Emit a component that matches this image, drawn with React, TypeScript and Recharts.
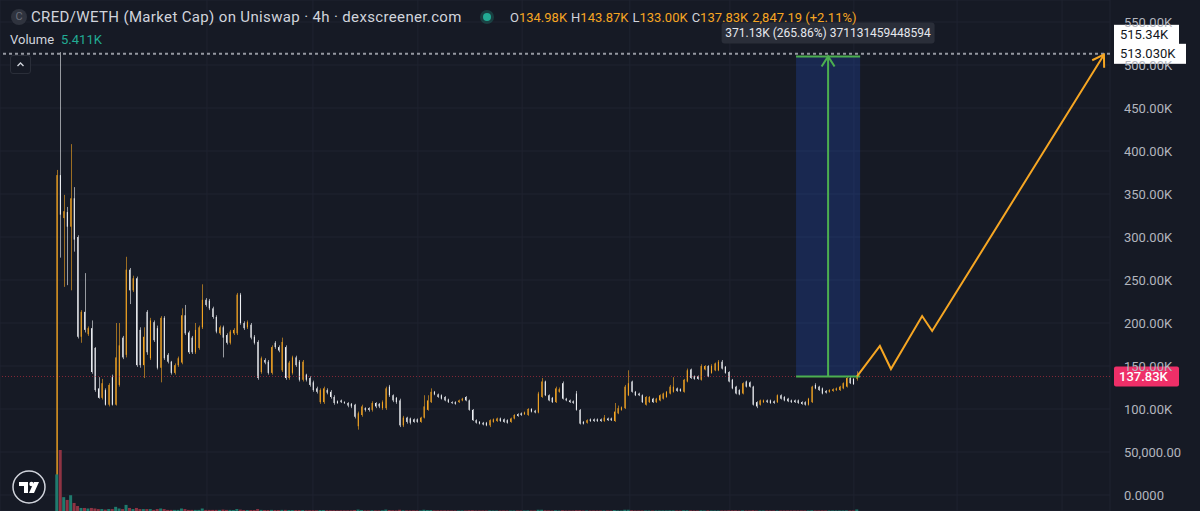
import React from 'react';
import {
  ComposedChart,
  Bar,
  Line,
  XAxis,
  YAxis,
  CartesianGrid,
  ReferenceLine,
  ReferenceArea,
  Cell,
} from 'recharts';

const W = 1200;
const H = 511;
const BG = '#161a25';
const UP = '#f6a623';
const DOWN = '#eef0f4';
const VOL_UP = '#1f7a6d';
const VOL_DOWN = '#8f3343';
const GREEN = '#4caf50';
const AXIS_TEXT = '#b2b5be';
const FONT = 'Roboto, "Noto Sans", sans-serif';

// [open, high, low, close, volume] — values in K
const candles: [number, number, number, number, number][] = [
  [2, 378, 1, 372, 132], [372, 515, 276, 326, 220], [322, 349, 242, 330, 50], [329, 335, 244, 312, 40],
  [312, 408, 238, 345, 57], [345, 358, 283, 297, 29], [300, 302, 182, 184, 18], [184, 215, 177, 213, 11],
  [213, 258, 189, 192, 11], [187, 196, 185, 194, 9], [194, 203, 141, 143, 11], [171, 172, 120, 122, 9],
  [124, 137, 112, 113, 7], [113, 135, 111, 130, 7], [122, 124, 104, 105, 5], [105, 130, 103, 128, 7],
  [137, 140, 104, 105, 7], [105, 200, 104, 160, 15], [128, 200, 126, 174, 9], [183, 185, 158, 160, 7],
  [163, 277, 160, 262, 22], [262, 264, 222, 238, 11], [238, 255, 236, 252, 7], [252, 254, 149, 151, 11],
  [192, 195, 148, 151, 7], [151, 195, 136, 184, 7], [213, 215, 163, 166, 7], [159, 206, 157, 203, 7],
  [201, 203, 178, 180, 4], [194, 197, 146, 148, 7], [148, 208, 131, 206, 9], [206, 208, 157, 159, 7],
  [163, 165, 153, 155, 4], [155, 156, 140, 142, 4], [142, 153, 140, 151, 4], [151, 161, 149, 159, 4],
  [154, 217, 152, 209, 9], [209, 221, 186, 188, 7], [189, 191, 164, 166, 4], [183, 185, 164, 166, 4],
  [166, 200, 164, 192, 4], [171, 197, 169, 195, 4], [195, 245, 193, 227, 9], [227, 229, 219, 221, 4],
  [226, 228, 215, 217, 4], [217, 219, 205, 207, 4], [207, 209, 188, 190, 4], [188, 197, 186, 195, 4],
  [195, 197, 160, 183, 5], [186, 188, 175, 177, 4], [177, 192, 175, 190, 4], [188, 194, 186, 192, 3.5],
  [188, 235, 186, 233, 7], [233, 235, 198, 200, 5], [200, 202, 192, 194, 3.5], [195, 203, 193, 201, 3.5],
  [198, 200, 181, 183, 3.5], [184, 186, 175, 177, 3.5], [178, 180, 134, 136, 7], [143, 161, 141, 159, 4],
  [157, 159, 152, 154, 3.5], [155, 157, 140, 142, 3.5], [142, 174, 140, 172, 4], [177, 179, 170, 172, 3.5],
  [172, 174, 166, 168, 3.5], [145, 183, 143, 178, 4], [172, 174, 134, 136, 4], [136, 156, 134, 154, 3.5],
  [142, 162, 140, 160, 3.5], [160, 162, 149, 151, 3.5], [155, 157, 132, 134, 3.5], [134, 157, 132, 155, 3.5],
  [140, 141, 132, 134, 2.6], [136, 138, 126, 128, 2.6], [131, 133, 120, 122, 2.6], [124, 126, 118, 120, 2.6],
  [108, 124, 106, 122, 3.5], [108, 126, 106, 124, 3.5], [122, 124, 117, 119, 2.6], [120, 122, 112, 114, 2.6],
  [114, 116, 105, 107, 2.6], [109, 110, 106, 107, 2.2], [110, 111, 107, 108, 2.2], [108, 109, 106, 107, 2.2],
  [107, 108, 102, 104, 2.2], [106, 107, 101, 103, 2.2], [105, 106, 89, 91, 3.5], [80, 97, 76, 95, 5],
  [93, 105, 91, 103, 3.5], [101, 102, 97, 99, 2.2], [101, 102, 97, 99, 2.2], [99, 109, 97, 107, 2.6],
  [107, 108, 101, 103, 2.2], [106, 107, 101, 103, 2.2], [101, 110, 99, 108, 2.6], [101, 126, 99, 124, 5],
  [126, 128, 114, 116, 3.5], [116, 117, 108, 110, 2.6], [113, 114, 106, 108, 2.2], [110, 112, 79, 81, 4.4],
  [81, 92, 79, 90, 2.6], [90, 91, 83, 85, 2.2], [89, 90, 82, 84, 2.2], [88, 89, 84, 85, 2.2],
  [88, 89, 84, 85, 2.2], [85, 91, 84, 90, 2.2], [90, 116, 89, 103, 4.4], [99, 116, 98, 110, 3.5],
  [108, 124, 107, 120, 3.5], [120, 121, 116, 117, 2.2], [117, 118, 113, 114, 2.2], [116, 117, 111, 112, 2.2],
  [114, 115, 109, 110, 2.2], [111, 112, 107, 108, 2.2], [108, 109, 106, 107, 1.8], [108, 109, 105, 106, 1.8],
  [108, 111, 107, 110, 1.8], [110, 113, 109, 112, 1.8], [114, 115, 109, 110, 1.8], [110, 111, 98, 99, 2.6],
  [99, 100, 86, 87, 2.6], [87, 88, 83, 84, 1.8], [85, 86, 82, 83, 1.8], [84, 85, 81, 82, 1.8],
  [84, 85, 80, 81, 1.8], [81, 88, 79, 87, 2.2], [85, 89, 84, 88, 1.8], [86, 90, 85, 89, 1.8],
  [89, 90, 85, 86, 1.8], [88, 89, 84, 85, 1.8], [87, 88, 83, 84, 1.8], [85, 90, 84, 89, 1.8],
  [89, 94, 88, 93, 1.8], [94, 95, 91, 92, 1.8], [95, 96, 92, 93, 1.8], [94, 97, 93, 96, 1.8],
  [93, 101, 92, 100, 2.2], [100, 101, 96, 97, 1.8], [98, 99, 95, 96, 1.8], [96, 120, 95, 118, 4.4],
  [114, 136, 113, 132, 4.4], [132, 133, 115, 116, 2.6], [116, 117, 109, 110, 2.2], [113, 114, 107, 108, 1.8],
  [108, 126, 107, 124, 2.6], [120, 125, 119, 123, 1.8], [130, 132, 111, 112, 2.6], [112, 113, 109, 110, 1.8],
  [110, 111, 107, 108, 1.8], [109, 110, 106, 107, 1.8], [118, 121, 98, 99, 2.6], [99, 100, 82, 83, 2.6],
  [85, 86, 82, 83, 1.8], [84, 88, 83, 87, 1.8], [88, 89, 85, 86, 1.8], [88, 89, 85, 86, 1.8],
  [88, 89, 85, 86, 1.8], [88, 89, 85, 86, 1.8], [86, 93, 85, 90, 1.8], [89, 90, 86, 87, 1.8],
  [89, 90, 86, 87, 1.8], [86, 107, 85, 97, 3.5], [95, 104, 94, 101, 2.2], [99, 103, 98, 102, 1.8],
  [101, 128, 100, 126, 4.4], [116, 145, 115, 130, 4.4], [132, 133, 119, 120, 2.6], [120, 121, 115, 116, 1.8],
  [118, 119, 115, 116, 1.8], [116, 117, 107, 108, 1.8], [105, 115, 104, 114, 1.8], [108, 115, 107, 114, 1.8],
  [112, 113, 107, 108, 1.8], [108, 113, 107, 112, 1.8], [110, 117, 109, 116, 1.8], [112, 119, 111, 118, 1.8],
  [114, 121, 113, 120, 1.8], [118, 128, 117, 126, 2.2], [120, 137, 119, 126, 2.2], [124, 125, 120, 121, 1.8],
  [123, 124, 120, 121, 1.8], [120, 135, 119, 134, 2.6], [132, 147, 131, 145, 2.6], [146, 147, 135, 136, 2.2],
  [138, 139, 134, 135, 1.8], [138, 139, 134, 135, 1.8], [134, 152, 133, 150, 2.6], [146, 151, 145, 150, 1.8],
  [150, 151, 137, 138, 2.2], [142, 152, 141, 150, 1.8], [145, 154, 144, 153, 1.8], [145, 157, 144, 155, 1.8],
  [155, 157, 146, 147, 1.8], [149, 150, 141, 142, 1.8], [143, 144, 131, 132, 2.2], [134, 135, 123, 124, 2.2],
  [126, 127, 117, 118, 2.2], [122, 123, 116, 117, 1.8], [118, 131, 117, 130, 2.2], [132, 133, 125, 126, 1.8],
  [131, 132, 125, 126, 1.8], [126, 127, 104, 105, 2.6], [108, 109, 101, 103, 1.8], [105, 111, 104, 110, 1.8],
  [108, 111, 107, 110, 1.8], [110, 111, 107, 108, 1.8], [110, 111, 106, 107, 1.8], [109, 110, 106, 107, 1.8],
  [108, 117, 107, 116, 1.8], [116, 117, 111, 112, 1.8], [114, 115, 109, 110, 1.8], [112, 113, 108, 109, 1.8],
  [110, 111, 107, 108, 1.8], [110, 111, 107, 108, 1.8], [110, 111, 106, 107, 1.8], [108, 109, 105, 106, 1.8],
  [108, 109, 104, 105, 1.8], [105, 113, 104, 112, 1.8], [108, 127, 107, 126, 2.6], [128, 130, 123, 124, 1.8],
  [126, 127, 121, 122, 1.8], [124, 125, 117, 118, 1.8], [121, 122, 118, 119, 1.8], [120, 123, 119, 122, 1.8],
  [121, 124, 120, 123, 1.8], [122, 125, 121, 124, 1.8], [122, 127, 121, 126, 1.8], [124, 131, 123, 130, 1.8],
  [126, 138, 125, 136, 2.2], [136, 137, 129, 130, 1.8], [135, 136, 128, 129, 1.8], [134.98, 143.87, 133.0, 137.83, 5.411],
];

const yTicks = [0, 50, 100, 150, 200, 250, 300, 350, 400, 450, 500, 550];
const yTickLabels = [
  '0.0000', '50,000.00', '100.00K', '150.00K', '200.00K', '250.00K',
  '300.00K', '350.00K', '400.00K', '450.00K', '500.00K', '550.00K',
];
const yDomain: [number, number] = [-18.6, 575.6];
const xDomain: [number, number] = [-16.46, 304.05];
const volDomain: [number, number] = [0, 1843];
const timeGridTicks = [43.3, 73.9, 104.2, 134.3, 165.4, 194.3, 230.1, 259.9, 290.2];

// projected path drawn by the user (index, value in K)
const projection = [
  { i: 231, v: 137.83 },
  { i: 237.6, v: 173.3 },
  { i: 240.8, v: 146.5 },
  { i: 249.8, v: 208.1 },
  { i: 252.7, v: 190.7 },
  { i: 302.3, v: 512 },
];

const measureStart = 213.4;
const measureEnd = 231.9;
const measureMid = 222.65;
const measureLow = 137.83;
const measureHigh = 510;
const measureLabel = '371.13K (265.86%) 371131459448594';
const measureArrow = [
  { i: measureMid, v: measureLow },
  { i: measureMid, v: measureHigh },
];

const lastPrice = 137.83;
const lastPriceLabel = '137.83K';
const hLineValue = 513.03;
const hLineLabels = ['515.34K', '513.030K'];

const titleText = 'CRED/WETH (Market Cap) on Uniswap · 4h · dexscreener.com';
const ohlc = [
  { k: 'O', v: '134.98K' },
  { k: 'H', v: '143.87K' },
  { k: 'L', v: '133.00K' },
  { k: 'C', v: '137.83K' },
];
const changeText = '2,847.19 (+2.11%)';
const volumeValue = '5.411K';

const data = candles.map(([o, h, l, c, vol], i) => ({ i, o, h, l, c, vol, range: [l, h] }));

const CandleShape = (props: any) => {
  const { x, y, width, height, payload } = props;
  if (!payload || x == null) return <g />;
  const { o, h, l, c } = payload;
  const top = Math.min(y, y + height);
  const hh = Math.abs(height);
  const ratio = h - l > 0 ? hh / (h - l) : 0;
  const bTop = top + (h - Math.max(o, c)) * ratio;
  const bBot = top + (h - Math.min(o, c)) * ratio;
  const color = c >= o ? UP : DOWN;
  const cx = Math.round(x + width / 2) + 0.5;
  return (
    <g>
      <line x1={cx} x2={cx} y1={top} y2={top + hh} stroke={color} strokeOpacity={0.6} strokeWidth={1} />
      <rect x={x} y={bTop} width={width} height={Math.max(1, bBot - bTop)} fill={color} />
    </g>
  );
};

const makeArrowDot = (color: string, len: number) => (props: any) => {
  const { cx, cy, index, points } = props;
  const key = `ad-${index}`;
  if (!points || index !== points.length - 1 || index === 0) return <g key={key} />;
  const prev = points[index - 1];
  const ang = Math.atan2(cy - prev.y, cx - prev.x);
  const spread = Math.PI / 5.5;
  const a1 = ang + Math.PI - spread;
  const a2 = ang + Math.PI + spread;
  return (
    <g key={key}>
      <path
        d={`M${cx + len * Math.cos(a1)},${cy + len * Math.sin(a1)} L${cx},${cy} L${cx + len * Math.cos(a2)},${cy + len * Math.sin(a2)}`}
        stroke={color}
        strokeWidth={2}
        fill="none"
      />
    </g>
  );
};

const PriceTag = (props: any) => {
  const { viewBox } = props;
  if (!viewBox) return null;
  const x = viewBox.x + viewBox.width + 4;
  const y = viewBox.y;
  return (
    <g>
      <rect x={x} y={y - 10} width={65} height={20} rx={2} fill="#ee2f68" />
      <text x={x + 5} y={y} dy="0.36em" fill="#ffffff" fontSize={13} fontFamily={FONT} fontWeight={500}>
        {lastPriceLabel}
      </text>
    </g>
  );
};

const HLineTag = (props: any) => {
  const { viewBox } = props;
  if (!viewBox) return null;
  const x = viewBox.x + viewBox.width + 4;
  const y = viewBox.y;
  return (
    <g>
      <rect x={x} y={y - 29} width={65} height={20} fill="#ffffff" />
      <rect x={x} y={y - 10} width={72} height={20} fill="#ffffff" />
      <text x={x + 6} y={y - 19} dy="0.36em" fill="#131722" fontSize={13} fontFamily={FONT}>
        {hLineLabels[0]}
      </text>
      <text x={x + 6} y={y} dy="0.36em" fill="#131722" fontSize={13} fontFamily={FONT}>
        {hLineLabels[1]}
      </text>
    </g>
  );
};

const MeasureTag = (props: any) => {
  const { viewBox } = props;
  if (!viewBox) return null;
  const cx = viewBox.x + viewBox.width / 2;
  const top = Math.min(viewBox.y, viewBox.y + viewBox.height);
  const bw = 213;
  return (
    <g>
      <rect x={cx - bw / 2} y={top - 34} width={bw} height={21} rx={3} fill="#2a2e39" />
      <text x={cx} y={top - 23.5} dy="0.36em" textAnchor="middle" fill="#e6e8ee" fontSize={12} fontFamily={FONT}>
        {measureLabel}
      </text>
    </g>
  );
};

const TVLogo = () => (
  <svg width={36} height={36} viewBox="-18 -18 36 36">
    <circle cx={0} cy={0} r={16} fill="#131722" stroke="#d1d4dc" strokeWidth={1.5} />
    <path d="M-10,-5 H-1 V6 H-5 V-1 H-10 Z" fill="#ffffff" />
    <circle cx={2.5} cy={-3} r={2.2} fill="#ffffff" />
    <path d="M5,-5 H10 L5,6 H0 Z" fill="#ffffff" />
  </svg>
);

export default function App() {
  return (
    <div
      style={{
        position: 'fixed',
        left: 0,
        top: 0,
        width: W,
        height: H,
        background: BG,
        overflow: 'hidden',
        fontFamily: FONT,
      }}
    >
      <ComposedChart width={W} height={H} data={data} margin={{ top: 0, right: 0, bottom: 0, left: 0 }}>
        <CartesianGrid stroke="#1f2330" />
        <XAxis dataKey="i" type="number" domain={xDomain} allowDataOverflow hide ticks={timeGridTicks} />
        <XAxis xAxisId="v" dataKey="i" type="number" domain={xDomain} allowDataOverflow hide />
        <YAxis
          orientation="right"
          width={90}
          type="number"
          domain={yDomain}
          allowDataOverflow
          ticks={yTicks}
          interval={0}
          tickFormatter={(v: number) => yTickLabels[yTicks.indexOf(v)] ?? ''}
          tick={{ fill: AXIS_TEXT, fontSize: 13, fontFamily: FONT }}
          tickLine={false}
          axisLine={false}
          tickSize={6}
          tickMargin={8}
        />
        <YAxis yAxisId="vol" hide domain={volDomain} allowDataOverflow />
        <ReferenceArea
          x1={measureStart}
          x2={measureEnd}
          y1={measureLow}
          y2={measureHigh}
          fill="#2962ff"
          fillOpacity={0.2}
          stroke="none"
          label={<MeasureTag />}
        />
        <ReferenceLine y={lastPrice} stroke="#f23645" strokeOpacity={0.5} strokeDasharray="1 2" label={<PriceTag />} />
        <Bar dataKey="range" barSize={3} shape={CandleShape} isAnimationActive={false} />
        <Bar xAxisId="v" yAxisId="vol" dataKey="vol" barSize={3} isAnimationActive={false}>
          {data.map((d) => (
            <Cell key={`v-${d.i}`} fill={d.c >= d.o ? VOL_UP : VOL_DOWN} />
          ))}
        </Bar>
        <ReferenceLine
          y={hLineValue}
          stroke="#9598a1"
          strokeWidth={2}
          strokeDasharray="3 3"
          label={<HLineTag />}
        />
        <ReferenceLine
          segment={[{ x: measureStart, y: measureHigh }, { x: measureEnd, y: measureHigh }]}
          stroke={GREEN}
          strokeWidth={2}
        />
        <ReferenceLine
          segment={[{ x: measureStart, y: measureLow }, { x: measureEnd, y: measureLow }]}
          stroke={GREEN}
          strokeWidth={2}
        />
        <Line
          data={measureArrow}
          dataKey="v"
          stroke={GREEN}
          strokeWidth={2}
          dot={makeArrowDot(GREEN, 12)}
          activeDot={false}
          isAnimationActive={false}
        />
        <Line
          data={projection}
          dataKey="v"
          stroke={UP}
          strokeWidth={2}
          dot={makeArrowDot(UP, 13)}
          activeDot={false}
          isAnimationActive={false}
        />
      </ComposedChart>

      {/* legend / header */}
      <div style={{ position: 'absolute', left: 11, top: 9, width: 16, height: 16, borderRadius: 8, background: '#2f333e', color: '#6a6e79', fontSize: 11, lineHeight: '16px', textAlign: 'center' }}>
        C
      </div>
      <div style={{ position: 'absolute', left: 31, top: 7, color: '#d1d4dc', fontSize: 15, letterSpacing: 0.35, lineHeight: '20px', whiteSpace: 'nowrap' }}>
        {titleText}
      </div>
      <div style={{ position: 'absolute', left: 480, top: 10, width: 14, height: 14, borderRadius: 7, background: 'rgba(34,171,148,0.25)' }} />
      <div style={{ position: 'absolute', left: 483, top: 13, width: 8, height: 8, borderRadius: 4, background: '#22ab94' }} />
      <div style={{ position: 'absolute', left: 510, top: 8, fontSize: 13, lineHeight: '19px', whiteSpace: 'nowrap' }}>
        {ohlc.map((p) => (
          <span key={p.k} style={{ marginRight: 4 }}>
            <span style={{ color: '#d1d4dc' }}>{p.k}</span>
            <span style={{ color: UP }}>{p.v}</span>
          </span>
        ))}
        <span style={{ color: UP }}>{changeText}</span>
      </div>
      <div style={{ position: 'absolute', left: 10, top: 31, fontSize: 13, lineHeight: '18px', whiteSpace: 'nowrap' }}>
        <span style={{ color: '#d1d4dc' }}>Volume</span>
        <span style={{ color: '#22ab94', marginLeft: 7 }}>{volumeValue}</span>
      </div>
      <div style={{ position: 'absolute', left: 10, top: 55, width: 21, height: 19, border: '1px solid #2a2e39', borderRadius: 3, boxSizing: 'border-box', background: BG }}>
        <svg width={19} height={17} style={{ display: 'block' }}>
          <path d="M6.5,10 L9.5,7 L12.5,10" stroke="#d1d4dc" strokeWidth={1.4} fill="none" />
        </svg>
      </div>
      <div style={{ position: 'absolute', left: 11, top: 469 }}>
        <TVLogo />
      </div>
    </div>
  );
}
